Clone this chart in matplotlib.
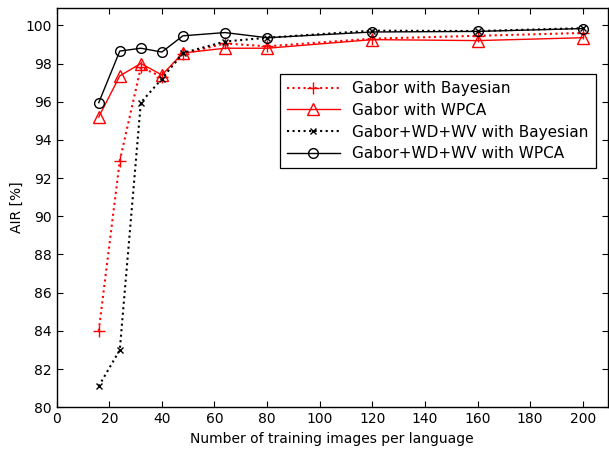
import matplotlib
matplotlib.use("Agg")
from matplotlib import pyplot as plt

x = [16, 24, 32, 40, 48, 64, 80, 120, 160, 200]

gabor_bayes = [84.0, 92.9, 97.8, 97.3, 98.5, 99.05, 98.9, 99.3, 99.45, 99.6]
gabor_wpca = [95.2, 97.35, 98.0, 97.4, 98.55, 98.8, 98.8, 99.25, 99.2, 99.35]
full_bayes = [81.1, 83.0, 95.95, 97.2, 98.55, 99.15, 99.35, 99.72, 99.7, 99.85]
full_wpca = [95.95, 98.65, 98.8, 98.6, 99.45, 99.62, 99.35, 99.65, 99.68, 99.83]

x_ticks = list(range(0, 201, 20))
y_ticks = list(range(80, 101, 2))

plt.rcParams["font.family"] = ["DejaVu Sans"]

fig = plt.figure(figsize=(6.09, 4.51), dpi=100)
ax = fig.add_axes([0.093, 0.097, 0.905, 0.885])

ax.plot(x, gabor_bayes, color="red", linestyle=":", linewidth=1.5,
        marker="+", markersize=8, markeredgewidth=1.0, label="Gabor with Bayesian")
ax.plot(x, gabor_wpca, color="red", linestyle="-", linewidth=1.0,
        marker="^", markersize=8, markerfacecolor="none", markeredgewidth=1.0,
        label="Gabor with WPCA")
ax.plot(x, full_bayes, color="black", linestyle=":", linewidth=1.5,
        marker="x", markersize=4, markeredgewidth=1.0,
        label="Gabor+WD+WV with Bayesian")
ax.plot(x, full_wpca, color="black", linestyle="-", linewidth=1.0,
        marker="o", markersize=7, markerfacecolor="none", markeredgewidth=1.0,
        label="Gabor+WD+WV with WPCA")

ax.set_xlim(0, 209.5)
ax.set_ylim(80, 100.9)
ax.set_xticks(x_ticks)
ax.set_yticks(y_ticks)
ax.tick_params(direction="in", top=True, right=True, labelsize=10, length=4)
ax.set_xlabel("Number of training images per language", fontsize=10)
ax.set_ylabel("AIR [%]", fontsize=10, labelpad=1)
for s in ax.spines.values():
    s.set_linewidth(1.0)

leg = ax.legend(loc="upper left", bbox_to_anchor=(0.405, 0.835), fontsize=11,
                fancybox=False, edgecolor="black", framealpha=1,
                handlelength=3.5, handletextpad=0.8, borderpad=0.45,
                labelspacing=0.45, borderaxespad=0)
leg.get_frame().set_linewidth(0.9)

fig.savefig("out.png", dpi=100)
